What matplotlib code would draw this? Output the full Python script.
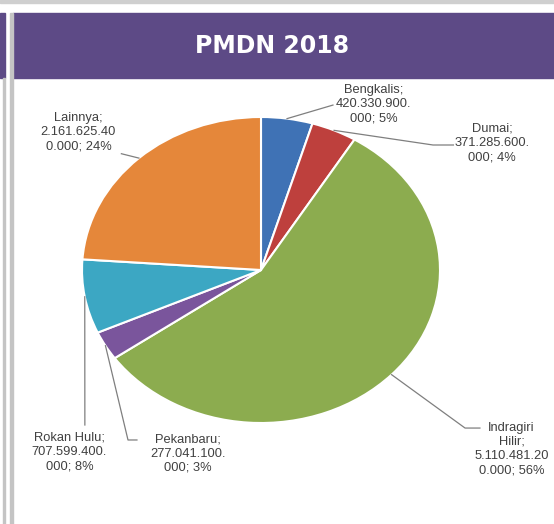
import numpy as np
import matplotlib
matplotlib.use("Agg")
import matplotlib.pyplot as plt
from matplotlib.patches import Rectangle

# data
regions = ["Bengkalis", "Dumai", "Indragiri Hilir", "Pekanbaru", "Rokan Hulu", "Lainnya"]
values = [420330900000, 371285600000, 5110481200000, 277041100000, 707599400000, 2161625400000]
label_texts = [
    "Bengkalis;\n420.330.900.\n000; 5%",
    "Dumai;\n371.285.600.\n000; 4%",
    "Indragiri\nHilir;\n5.110.481.20\n0.000; 56%",
    "Pekanbaru;\n277.041.100.\n000; 3%",
    "Rokan Hulu;\n707.599.400.\n000; 8%",
    "Lainnya;\n2.161.625.40\n0.000; 24%",
]
colors = ["#3f72b5", "#be403d", "#8cac4f", "#7a559c", "#3ca7c3", "#e5873a"]

# label centres and leader line anchors (pie data coords, radius 1)
label_pos = [(0.63, 1.085), (1.29, 0.83), (1.40, -1.17), (-0.41, -1.20), (-1.07, -1.19), (-1.02, 0.90)]
leader_pts = [
    [(0.402, 1.078)],
    [(0.961, 0.817), (1.075, 0.817)],
    [(1.14, -1.033), (1.223, -1.033)],
    [(-0.743, -1.111), (-0.693, -1.111)],
    [(-0.984, -1.013)],
    [(-0.78, 0.76)],
]

W, H = 554, 524
fig = plt.figure(figsize=(W / 100, H / 100), dpi=100)
fig.patch.set_facecolor("white")

def px_rect(x0, y0, x1, y1, color):
    fig.patches.append(Rectangle((x0 / W, 1 - y1 / H), (x1 - x0) / W, (y1 - y0) / H,
                                 transform=fig.transFigure, color=color, zorder=0))

# frame and banner
px_rect(0, 0, W, 3, "#cfcfcf")
px_rect(0, 13, 5, 78, "#5d4a86")
px_rect(13, 13, W, 78, "#5d4a86")
px_rect(3, 78, 5, H, "#c4c4c4")
px_rect(10, 13, 13, H, "#c4c4c4")
fig.text(272 / W, 1 - 46 / H, "PMDN 2018", color="white", fontsize=17,
         fontweight="bold", ha="center", va="center")

# pie (stretched horizontally like the source)
cx, cy, rx, ry = 261, 270, 179, 153
ax = fig.add_axes([(cx - rx) / W, (H - cy - ry) / H, 2 * rx / W, 2 * ry / H])
wedges, _ = ax.pie(values, colors=colors, startangle=90, counterclock=False,
                   wedgeprops=dict(edgecolor="white", linewidth=1.5))
ax.set_aspect("auto")
ax.set_xlim(-1, 1)
ax.set_ylim(-1, 1)

for w, txt, (lx, ly), pts in zip(wedges, label_texts, label_pos, leader_pts):
    ang = np.deg2rad((w.theta1 + w.theta2) / 2)
    xs = [np.cos(ang)] + [p[0] for p in pts]
    ys = [np.sin(ang)] + [p[1] for p in pts]
    ax.plot(xs, ys, color="#7f7f7f", lw=0.9, clip_on=False)
    ax.text(lx, ly, txt, ha="center", va="center", fontsize=9.3, color="#404040",
            family="Liberation Sans", linespacing=1.25, clip_on=False)

fig.savefig("out.png", dpi=100)
